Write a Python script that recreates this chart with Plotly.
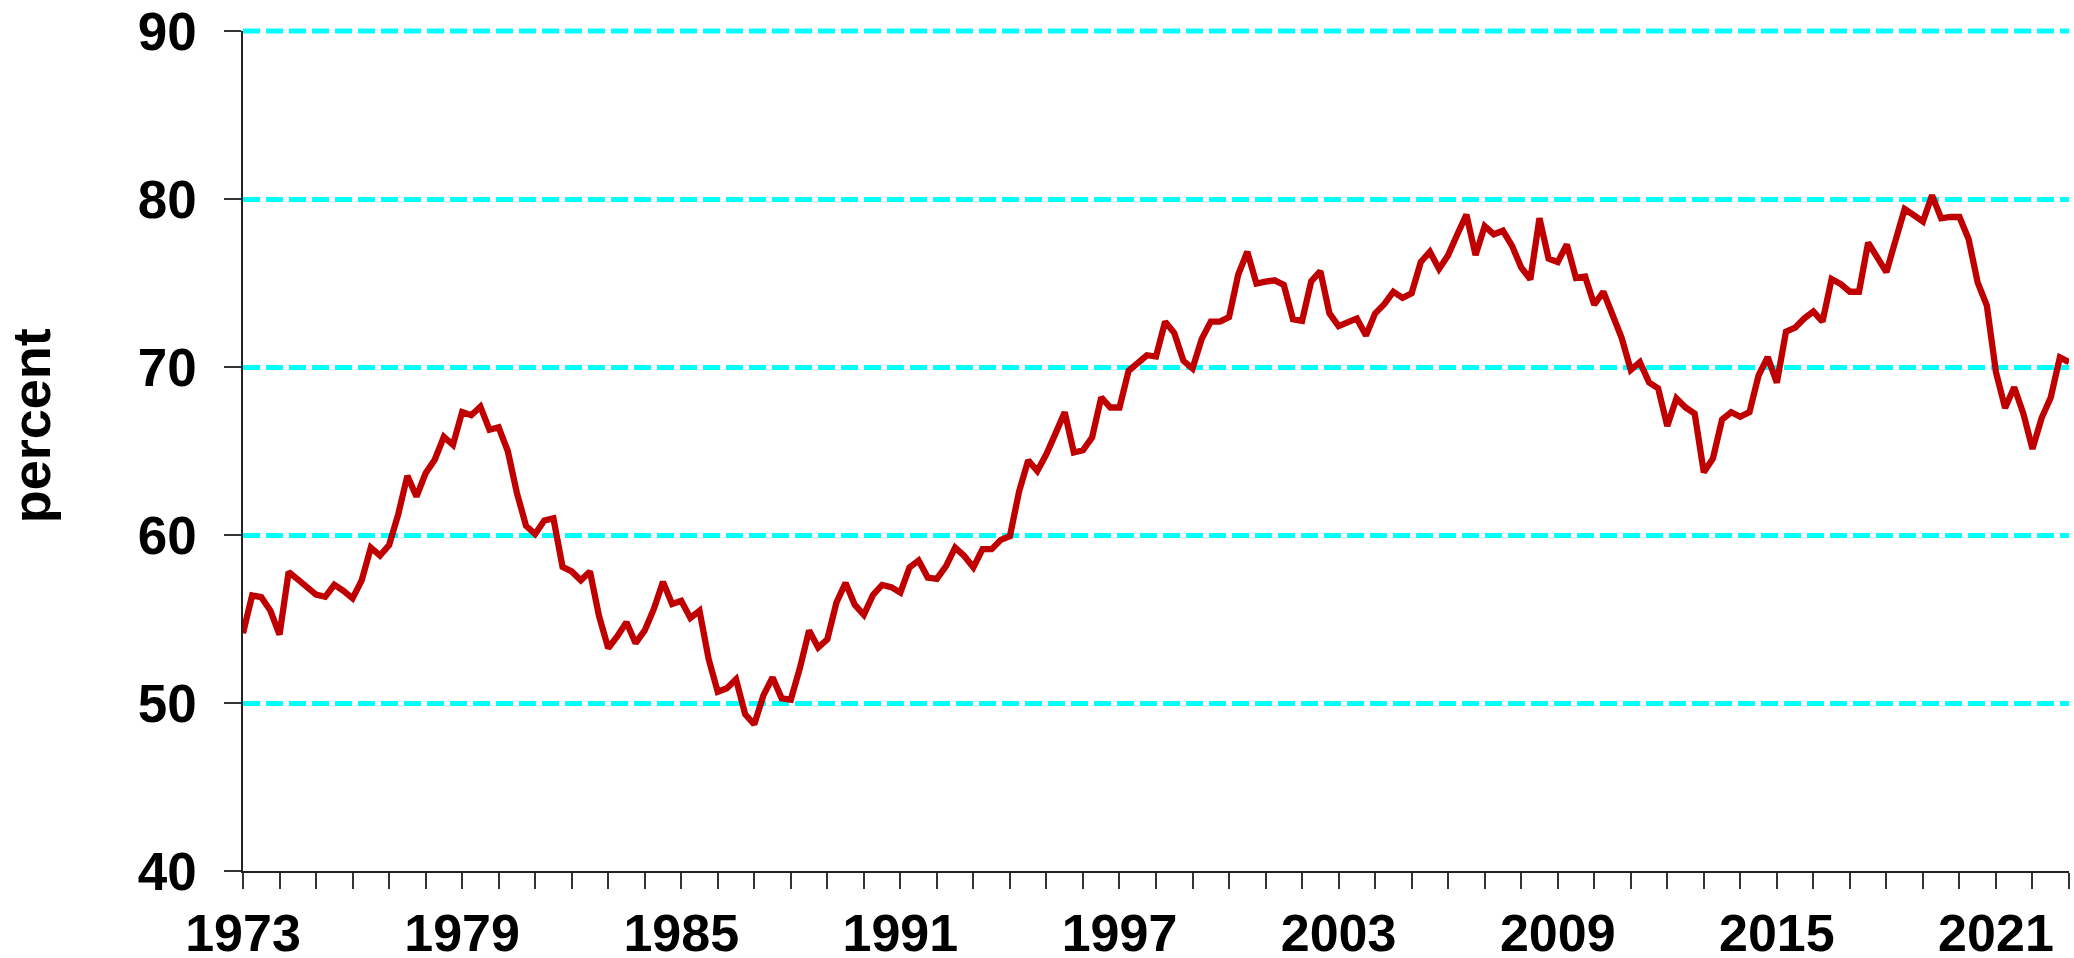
import plotly.graph_objects as go

# Quarterly series, 1973Q1 .. 2023Q1 (percent)
start_year = 1973
share_pct = [
    54.15, 56.4, 56.3, 55.5,      # 1973
    54.07, 57.8, 57.36, 56.93,    # 1974
    56.45, 56.32, 57.04, 56.68,   # 1975
    56.23, 57.3, 59.25, 58.78,    # 1976
    59.4, 61.23, 63.52, 62.29,    # 1977
    63.67, 64.48, 65.84, 65.37,   # 1978
    67.32, 67.13, 67.64, 66.26,   # 1979
    66.41, 65.0, 62.5, 60.55,     # 1980
    60.06, 60.86, 60.99, 58.1,    # 1981
    57.83, 57.3, 57.83, 55.17,    # 1982
    53.26, 53.98, 54.81, 53.56,   # 1983
    54.32, 55.6, 57.21, 55.89,    # 1984
    56.08, 55.06, 55.49, 52.62,   # 1985
    50.67, 50.88, 51.41, 49.33,   # 1986
    48.73, 50.45, 51.52, 50.28,   # 1987
    50.2, 52.09, 54.32, 53.3,     # 1988
    53.79, 55.98, 57.15, 55.85,   # 1989
    55.25, 56.43, 57.03, 56.9,    # 1990
    56.57, 58.07, 58.48, 57.47,   # 1991
    57.39, 58.15, 59.25, 58.75,   # 1992
    58.07, 59.16, 59.16, 59.71,   # 1993
    59.93, 62.58, 64.44, 63.81,   # 1994
    64.82, 66.05, 67.31, 64.91,   # 1995
    65.04, 65.81, 68.19, 67.59,   # 1996
    67.59, 69.77, 70.24, 70.7,    # 1997
    70.62, 72.7, 72.02, 70.37,    # 1998
    69.91, 71.66, 72.7, 72.7,     # 1999
    72.97, 75.49, 76.86, 74.97,   # 2000
    75.08, 75.16, 74.89, 72.84,   # 2001
    72.75, 75.1, 75.71, 73.19,    # 2002
    72.43, 72.7, 72.89, 71.88,    # 2003
    73.19, 73.74, 74.48, 74.12,   # 2004
    74.39, 76.25, 76.86, 75.84,   # 2005
    76.66, 77.89, 79.07, 76.66,   # 2006
    78.39, 77.9, 78.11, 77.21,    # 2007
    75.93, 75.21, 78.85, 76.45,   # 2008
    76.25, 77.29, 75.3, 75.38,    # 2009
    73.71, 74.48, 73.11, 71.74,   # 2010
    69.83, 70.29, 69.09, 68.73,   # 2011
    66.49, 68.13, 67.59, 67.23,   # 2012
    63.73, 64.55, 66.87, 67.31,   # 2013
    67.04, 67.31, 69.5, 70.59,    # 2014
    69.06, 72.1, 72.34, 72.89,    # 2015
    73.3, 72.7, 75.24, 74.94,     # 2016
    74.48, 74.48, 77.4, 76.58,    # 2017
    75.65, 77.54, 79.4, 79.04,    # 2018
    78.66, 80.22, 78.85, 78.93,   # 2019
    78.93, 77.62, 75.02, 73.66,   # 2020
    69.69, 67.56, 68.79, 67.23,   # 2021
    65.12, 66.96, 68.19, 70.57,   # 2022
    70.29,                        # 2023
]
x_tick_years = [1973, 1979, 1985, 1991, 1997, 2003, 2009, 2015, 2021]
y_tick_values = [40, 50, 60, 70, 80, 90]
y_title = "percent"

x_time = [start_year + i / 4 for i in range(len(share_pct))]

FONT = "Liberation Sans, Arial, sans-serif"
GRID_COLOR = "#00FFFF"
GRID_DASH = "17px,6px"
GRID_W = 5

fig = go.Figure()
fig.add_trace(go.Scatter(
    x=x_time, y=share_pct, mode="lines",
    line=dict(color="#C00000", width=6.3),
    hoverinfo="x+y", showlegend=False,
))

fig.update_layout(
    width=2074, height=958,
    margin=dict(l=243, r=5, t=31, b=87),
    paper_bgcolor="white", plot_bgcolor="white",
    showlegend=False,
    annotations=[dict(
        text=y_title, xref="paper", yref="paper",
        x=-0.1161, y=0.5294, xanchor="center", yanchor="middle",
        textangle=-90, showarrow=False,
        font=dict(family=FONT, size=54, color="black", weight="bold"),
    )],
    # top gridline (sits on the upper edge of the plot range)
    shapes=[dict(
        type="line", xref="paper", yref="paper",
        x0=0, x1=1, y0=1, y1=1,
        line=dict(color=GRID_COLOR, width=GRID_W, dash=GRID_DASH),
        layer="below",
    )],
)

fig.update_xaxes(
    range=[1973, 2023], automargin=False,
    tickmode="array", tickvals=x_tick_years,
    ticktext=[str(v) for v in x_tick_years],
    ticks="outside", ticklen=16, tickwidth=1.5, tickcolor="#333333",
    minor=dict(tick0=1973, dtick=1, ticks="outside", ticklen=16,
               tickwidth=1.5, tickcolor="#333333", showgrid=False),
    showline=True, linecolor="#222222", linewidth=1.5,
    showgrid=False, zeroline=False,
    tickfont=dict(family=FONT, size=52, color="black", weight="bold"),
    ticklabelstandoff=0,
)

fig.update_yaxes(
    range=[40, 90], automargin=False,
    tickmode="array", tickvals=y_tick_values,
    ticks="outside", ticklen=17, tickwidth=1.5, tickcolor="#333333",
    showline=True, linecolor="#222222", linewidth=1.5,
    showgrid=True, gridcolor=GRID_COLOR, gridwidth=GRID_W, griddash=GRID_DASH,
    zeroline=False,
    tickfont=dict(family=FONT, size=53, color="black", weight="bold"),
    ticklabelstandoff=17,
)

# remove the page's default body margin so the figure fills the window exactly
fig.write_html(
    "out.html",
    config={"displayModeBar": False},
    post_script="document.body.style.margin='0';document.body.style.overflow='hidden';",
)
